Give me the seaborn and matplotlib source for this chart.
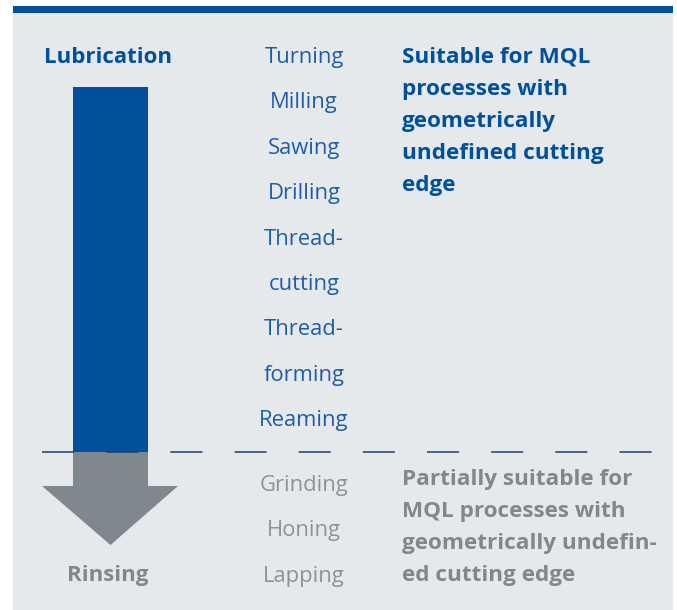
import matplotlib.pyplot as plt
import matplotlib.patches as mpatches
import pandas as pd
import seaborn as sns

# Data
suitable = ['Turning', 'Milling', 'Sawing', 'Drilling', 'Thread-', 'cutting',
            'Thread-', 'forming', 'Reaming']
partial = ['Grinding', 'Honing', 'Lapping']
suitable_note = ['Suitable for MQL', 'processes with', 'geometrically',
                 'undefined cutting', 'edge']
partial_note = ['Partially suitable for', 'MQL processes with',
                'geometrically undefin-', 'ed cutting edge']
ends = ['Lubrication', 'Rinsing']

# Colours
BG = '#e6e9ec'
BLUE = '#00509e'
BLUE_TXT = '#1f5ea6'
GREY = '#7f888d'
GREY_TXT = '#8c9397'

sns.set_theme(style='white')
plt.rcParams['font.family'] = ['Open Sans', 'DejaVu Sans']
plt.rcParams['lines.scale_dashes'] = False

fig = plt.figure(figsize=(6.77, 6.10), dpi=100)
ax = fig.add_axes([0, 0, 1, 1])
ax.set_xlim(0, 677)
ax.set_ylim(610, 0)
ax.axis('off')

# panel + top rule
ax.add_patch(mpatches.Rectangle((13, 6), 660, 604, color=BG, lw=0, zorder=0))
ax.add_patch(mpatches.Rectangle((13, 6), 660, 7, color=BLUE, lw=0, zorder=1))

# arrow: blue shaft, grey shaft, grey head
ax.bar(110.5, 365, bottom=87, width=75, color=BLUE, lw=0, zorder=2)
ax.bar(110.5, 35, bottom=452, width=75, color=GREY, lw=0, zorder=2)
ax.fill([42, 178, 110.5], [486, 486, 545], color=GREY, zorder=2, lw=0)

# dashed divider
div = pd.DataFrame({'x': [42, 652], 'y': [452, 452]})
sns.lineplot(data=div, x='x', y='y', ax=ax, color='#1b3f6e', lw=1.1,
             zorder=3)
ax.lines[-1].set_dashes([23.1, 23.1])

# end labels
ax.text(108, 63, ends[0], color=BLUE, fontsize=16, fontweight='bold',
        ha='center', va='baseline')
ax.text(108, 581, ends[1], color=GREY, fontsize=16, fontweight='bold',
        ha='center', va='baseline')

# process lists
step = 45.4
for i, name in enumerate(suitable):
    ax.text(304, 63 + i * step, name, color=BLUE_TXT, fontsize=15.8,
            ha='center', va='baseline')
for i, name in enumerate(partial):
    ax.text(304, 491 + i * step, name, color=GREY_TXT, fontsize=15.8,
            ha='center', va='baseline')

# notes
for i, line in enumerate(suitable_note):
    ax.text(402, 62.5 + i * 32, line, color=BLUE, fontsize=16.2,
            fontweight='bold', ha='left', va='baseline')
for i, line in enumerate(partial_note):
    ax.text(402, 485 + i * 32, line, color=GREY, fontsize=16.2,
            fontweight='bold', ha='left', va='baseline')

fig.savefig('out.png', dpi=100, facecolor='white')
